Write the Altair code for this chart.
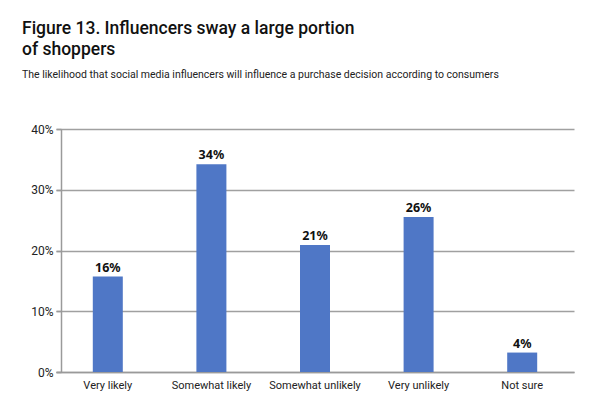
import altair as alt
import pandas as pd

categories = ["Very likely", "Somewhat likely", "Somewhat unlikely", "Very unlikely", "Not sure"]
values = [0.157, 0.342, 0.209, 0.255, 0.032]
labels = ["16%", "34%", "21%", "26%", "4%"]

df = pd.DataFrame({"cat": categories, "val": values, "lab": labels})

NARROW = "Roboto"

base = alt.Chart(df).encode(
    x=alt.X("cat:N", sort=categories, title=None,
            scale=alt.Scale(paddingInner=0, paddingOuter=0, range=[-5, 513]),
            axis=alt.Axis(labelAngle=0, ticks=False, domainColor="#9a9a9a", domainWidth=1.5,
                          labelFont=NARROW, labelFontSize=11,
                          labelColor="#222", labelPadding=7, grid=False)),
    y=alt.Y("val:Q", title=None,
            scale=alt.Scale(domain=[0, 0.4]),
            axis=alt.Axis(values=[0, 0.1, 0.2, 0.3, 0.4], format=".0%", grid=True,
                          gridColor="#a0a0a0", gridWidth=1.5, domainColor="#9a9a9a",
                          domainWidth=1.5, tickColor="#9a9a9a", tickSize=5, tickWidth=1.5,
                          labelFont=NARROW, labelFontSize=12,
                          labelColor="#222", labelPadding=3)),
)

bars = base.mark_bar(size=30, color="#4f77c6")
text = base.mark_text(dy=-9, font="Noto Sans", fontWeight="bold", fontSize=12.5,
                      color="#111").encode(text="lab:N")

chart = (bars + text).properties(
    width=506, height=243,
    padding={"left": 53, "top": 121, "right": 25, "bottom": 24},
    autosize=alt.AutoSizeParams(type="none"),
    title=alt.TitleParams(
        text=["Figure 13. Influencers sway a large portion", "of shoppers"],
        subtitle="The likelihood that social media influencers will influence a purchase decision according to consumers",
        anchor="start", frame="group", dx=-39, offset=43,
        font="Roboto", fontSize=17.5, fontWeight=500, color="#111", lineHeight=21,
        subtitleFont=NARROW, subtitleFontSize=10.5, subtitleColor="#222",
        subtitlePadding=11,
    ),
).configure_view(stroke=None)

chart.save("out.html", embed_options={"renderer": "svg", "actions": False})
